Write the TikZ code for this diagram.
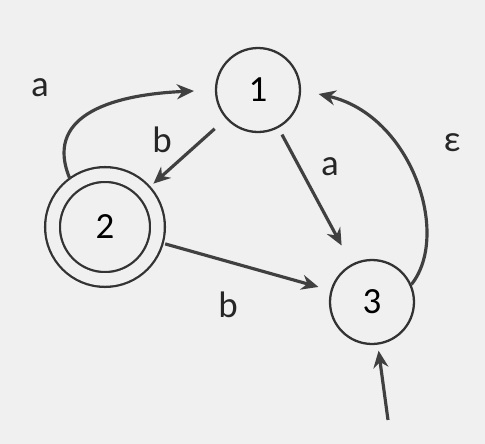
\documentclass[tikz,border=0pt]{standalone}
\usepackage{fontspec}
\setmainfont{Carlito}
\usetikzlibrary{arrows.meta}

\begin{document}
\begin{tikzpicture}[
  x=0.02cm, y=-0.02cm,
  font=\fontsize{21}{25}\selectfont,
  st/.style={draw=black!80, circle, line width=1.3pt, minimum size=1.68cm, inner sep=0pt},
  acc/.style={st, double=black!6, double distance=0.25cm, minimum size=2.1cm, outer sep=0.15cm},
  edge/.style={draw=black!75, line width=1.8pt, -{Stealth[length=0.34cm,width=0.3cm]}},
  lbl/.style={text=black!85}
]
\fill[black!6] (0,0) rectangle (485,444);
\useasboundingbox (0,0) rectangle (485,444);
\node[st] (s1) at (258,90) {1};
\node[acc] (s2) at (105,227) {2};
\node[st] (s3) at (372,302) {3};
\coordinate (start) at (388,420);
% transitions
\draw[edge, shorten >=0.42cm] (s2.126) .. controls +(-25,-60) and +(-110,5) .. (s1.west);
\draw[edge, shorten <=0.3cm, shorten >=0.1cm] (s1) -- (s2);
\draw[edge, shorten <=0.15cm, shorten >=0.42cm] (s1) -- (s3);
\draw[edge, shorten <=0.05cm, shorten >=0.25cm] (s2) -- (s3);
\draw[edge, shorten >=0.36cm] (s3.24) .. controls +(40,-50) and +(110,25) .. (s1.east);
\draw[edge, shorten >=0.12cm] (start) -- (s3);
% labels
\node[lbl] (la) at (40,88) {a};
\node[lbl] (lb) at (162,140) {b};
\node[lbl] (la2) at (330,167) {a};
\node[lbl] (lb2) at (228,305) {b};
\node[lbl] (le) at (452,143) {ε};
\end{tikzpicture}
\end{document}
